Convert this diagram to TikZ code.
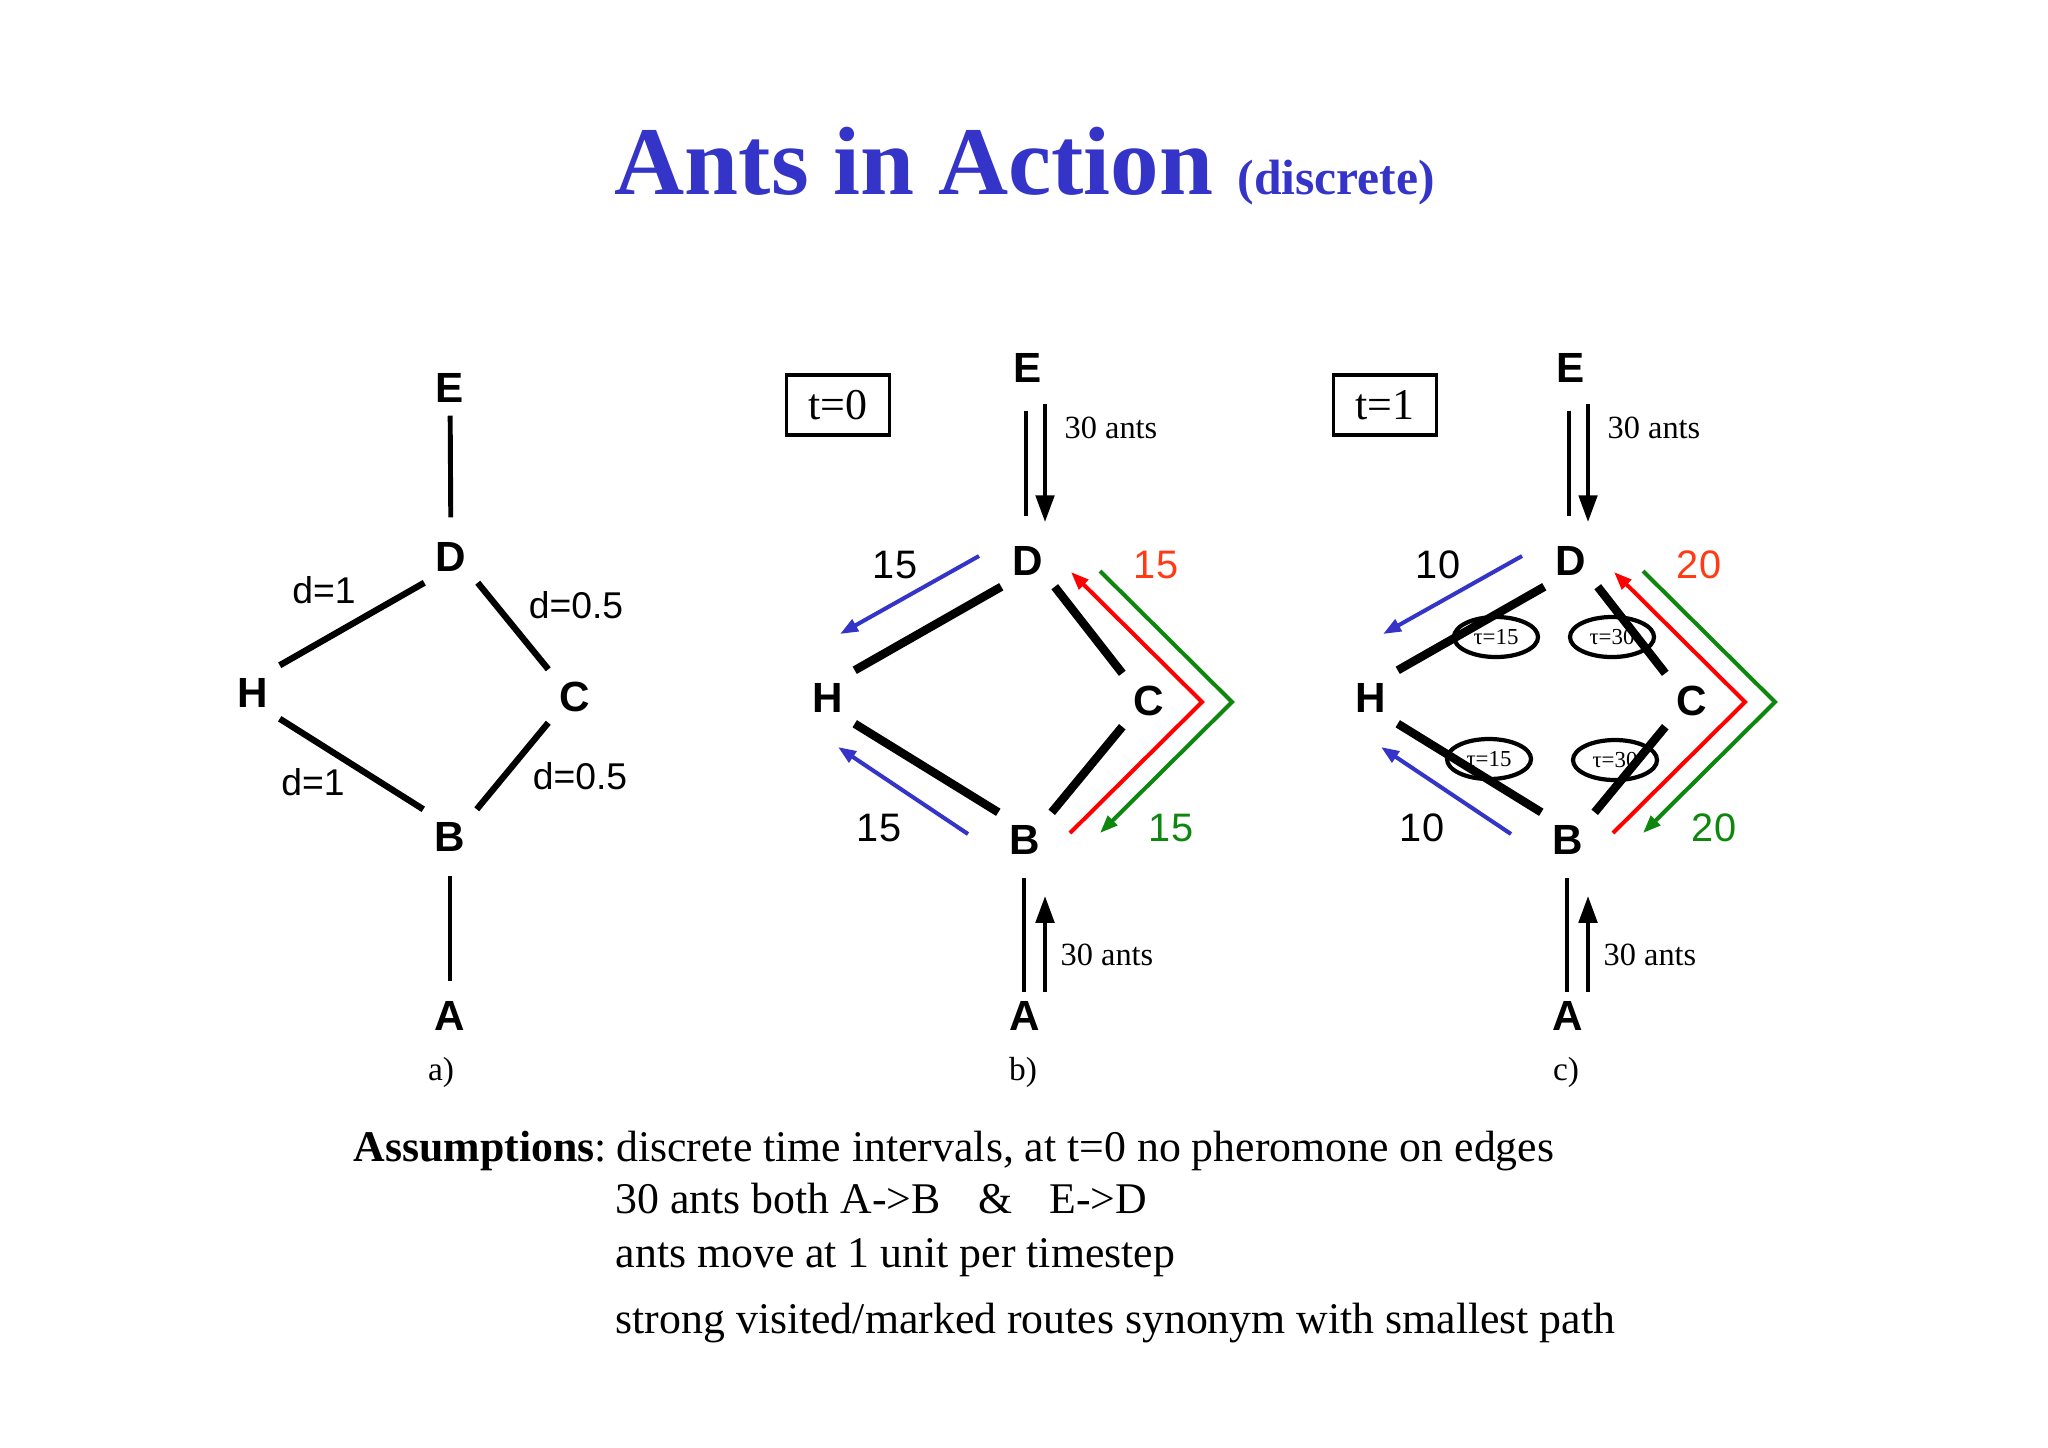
\documentclass[tikz,border=0pt]{standalone}
\usepackage{fontspec}
\setmainfont{Liberation Serif}
\setsansfont{Liberation Sans}
\usepackage{xcolor}
\usepackage{tikz}
\usetikzlibrary{arrows.meta,shapes.geometric}
\definecolor{antblue}{HTML}{3434C8}
\definecolor{antred}{HTML}{FF0000}
\definecolor{antorange}{HTML}{FF3A14}
\definecolor{antgreen}{HTML}{0E870E}

\begin{document}
\begin{tikzpicture}[x=0.01cm,y=-0.01cm,
  vtx/.style={font=\sffamily\bfseries\fontsize{12}{12}\selectfont,inner sep=0pt,minimum size=5.2mm,text height=8.6pt,text depth=0pt},
  num/.style={font=\sffamily\fontsize{11.3}{12}\selectfont,inner sep=0pt},
  dist/.style={font=\sffamily\fontsize{10.6}{12}\selectfont,inner sep=0pt},
  panel/.style={font=\fontsize{9.5}{10}\selectfont,inner sep=0pt},
  ants/.style={font=\fontsize{9.2}{10}\selectfont,inner sep=0pt},
  note/.style={font=\fontsize{12.45}{14}\selectfont,inner sep=0pt,anchor=base west},
  clock/.style={draw,line width=1.1pt,minimum width=10.3mm,minimum height=6mm,inner sep=0pt,font=\fontsize{12.5}{13}\selectfont},
  tau/.style={ellipse,draw,line width=1.2pt,minimum width=8.4mm,minimum height=4mm,inner sep=0pt,font=\fontsize{6.5}{6.5}\selectfont},
  link/.style={line width=1.4pt}, road/.style={line width=1.8pt}, wide/.style={line width=2.4pt},
  flow/.style={line width=1.15pt,-{Triangle[length=1.8mm,width=1.3mm]}},
  march/.style={line width=1.4pt,-{Triangle[length=2.7mm,width=1.8mm]}}]
  \useasboundingbox (0,0) rectangle (2048,1447);
  \node[anchor=base west,inner sep=0pt,text=antblue,font=\bfseries] (title) at (614,194)
    {\fontsize{27.6}{30}\selectfont Ants in Action {\fontsize{14.1}{15}\selectfont(discrete)}};
  % a) distances
  \node[vtx] (aE) at (450,387) {E}; \node[vtx] (aD) at (451,556) {D};
  \node[vtx] (aH) at (253,692) {H}; \node[vtx] (aC) at (575,696) {C};
  \node[vtx] (aB) at (450,836) {B}; \node[vtx] (aA) at (450,1015) {A};
  \draw[link,shorten <=0.2mm,shorten >=1.2mm] (aE) -- (aD);
  \draw[road] (aD.south west) -- (aH.north east); \draw[road] (aD.south east) -- (aC.north west);
  \draw[road] (aH.south east) -- (aB.north west); \draw[road] (aC.south west) -- (aB.north east);
  \draw[link,shorten <=1.3mm,shorten >=0.7mm] (aB) -- (aA);
  \node[dist] (d1) at (324,590) {d=1}; \node[dist] (d2) at (576,605) {d=0.5};
  \node[dist] (d3) at (313,782) {d=1}; \node[dist] (d4) at (580,776) {d=0.5};
  \node[panel] (acap) at (441,1072) {a)};
  % pheromone marks at t=1
  \node[tau] (tauDH) at (1496,637) {τ=15}; \node[tau] (tauDC) at (1612,637) {τ=30};
  \node[tau] (tauHB) at (1489,759) {τ=15}; \node[tau] (tauCB) at (1615,760) {τ=30};
  % b) and c)
  \foreach \p/\dx/\n/\m/\t/\k in {b/0/15/15/0/838,c/543/10/20/1/1385}{
    \node[vtx] (\p E) at (\dx+1028,367) {E}; \node[vtx] (\p D) at (\dx+1028,560) {D};
    \node[vtx] (\p H) at (\dx+828,697) {H}; \node[vtx] (\p C) at (\dx+1149,700) {C};
    \node[vtx] (\p B) at (\dx+1025,839) {B}; \node[vtx] (\p A) at (\dx+1025,1015) {A};
    \draw[link] ([xshift=-.02cm,yshift=-.17cm]\p E.south) -- ([xshift=-.02cm,yshift=.17cm]\p D.north);
    \draw[march] ([xshift=.17cm,yshift=-.1cm]\p E.south) -- ([xshift=.17cm,yshift=.11cm]\p D.north);
    \draw[wide] (\p D.south west) -- (\p H.north east); \draw[wide] (\p D.south east) -- (\p C.north west);
    \draw[wide] (\p H.south east) -- (\p B.north west); \draw[wide] (\p C.south west) -- (\p B.north east);
    \draw[link] ([xshift=-.01cm,yshift=-.12cm]\p B.south) -- ([xshift=-.01cm,yshift=-.04cm]\p A.north);
    \draw[march] ([xshift=.2cm,yshift=-.04cm]\p A.north) -- ([xshift=.2cm,yshift=-.3cm]\p B.south);
    \coordinate (\p u1) at (\dx+979,556); \coordinate (\p u2) at (\dx+840,634);
    \coordinate (\p l1) at (\dx+968,834); \coordinate (\p l2) at (\dx+838,747);
    \coordinate (\p r1) at (\dx+1070,833); \coordinate (\p r2) at (\dx+1202,702); \coordinate (\p r3) at (\dx+1071,572);
    \coordinate (\p g1) at (\dx+1100,571); \coordinate (\p g2) at (\dx+1232,702); \coordinate (\p g3) at (\dx+1100,833);
    \draw[flow,antblue] (\p u1) -- (\p u2); \draw[flow,antblue] (\p l1) -- (\p l2);
    \draw[flow,antred] (\p r1) -- (\p r2) -- (\p r3); \draw[flow,antgreen] (\p g1) -- (\p g2) -- (\p g3);
    \node[num] (\p nu) at (\dx+895,565) {\n}; \node[num] (\p nl) at (\dx+879,828) {\n};
    \node[num,text=antorange] (\p nr) at (\dx+1156,565) {\m}; \node[num,text=antgreen] (\p ng) at (\dx+1171,828) {\m};
    \node[ants] (\p top) at (\dx+1111,428) {30 ants}; \node[ants] (\p bot) at (\dx+1107,955) {30 ants};
    \node[clock] (\p clk) at (\k,405) {t=\t};
    \node[panel] (\p cap) at (\dx+1023,1072) {\p)};
  }
  \node[note] (l1) at (353,1161) {\textbf{Assumptions}:\hspace{0.22em}discrete time intervals, at t=0 no pheromone on edges};
  \node[note] (l2) at (615,1213) {30 ants both A->B\hspace{0.85em}\&\hspace{0.85em}E->D};
  \node[note] (l3) at (615,1267) {ants move at 1 unit per timestep};
  \node[note] (l4) at (615,1333) {strong visited/marked routes synonym with smallest path};
\end{tikzpicture}
\end{document}
